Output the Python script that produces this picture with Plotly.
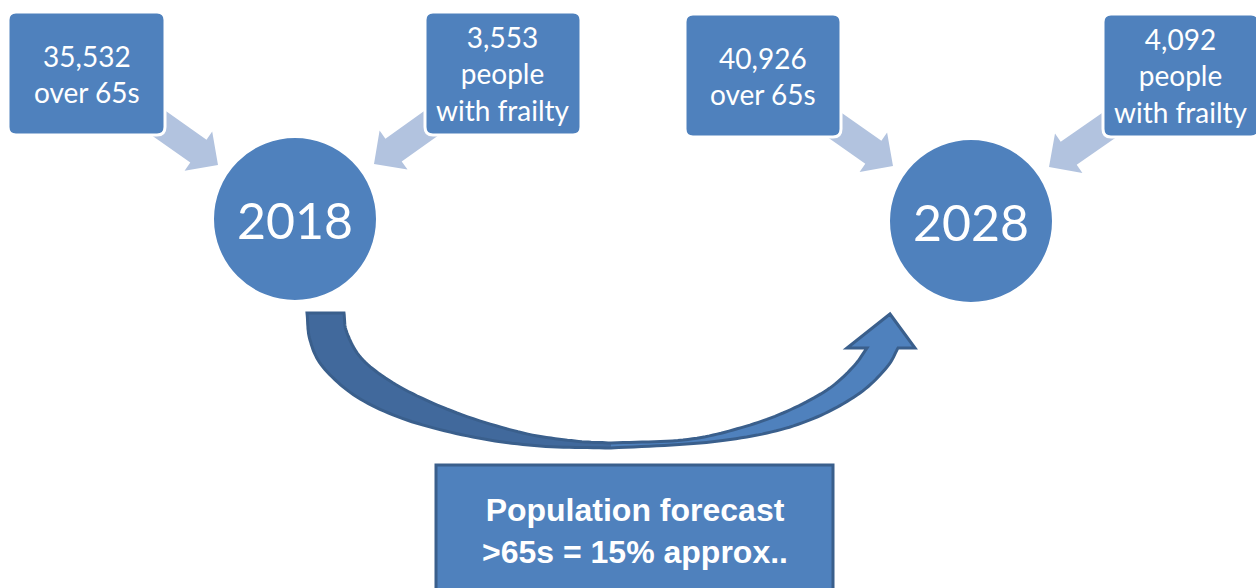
import numpy as np
import plotly.graph_objects as go

# ---- data ----
years = ["2018", "2028"]
over_65s = [35532, 40926]
with_frailty = [3553, 4092]
forecast_text = ["Population forecast", ">65s = 15% approx.."]

# ---- layout geometry (pixels, y downward) ----
W, H = 1256, 588
circle_centers = [(295, 219), (971, 221)]
circle_r = 82
box_over = [(8, 12, 165, 135), (685, 14, 841, 137)]
box_frail = [(425, 12, 581, 135), (1103, 14, 1259, 137)]
arrows_small = [
    ((150, 117), (218, 165)), ((440, 117), (374, 164)),
    ((826, 119), (893, 166)), ((1118, 119), (1049, 167)),
]
forecast_box = (436, 465, 833, 600)

BLUE = "#4F81BD"
DARK = "#3A5F8C"
DARK_FILL = "#41699C"
LIGHT = "#B2C3DF"
FONT_C = "Lato"
FONT_A = "Liberation Sans"

shapes = []
annotations = []


def rrect(x0, y0, x1, y1, r=8):
    return (f"M{x0+r},{y0} L{x1-r},{y0} Q{x1},{y0} {x1},{y0+r} L{x1},{y1-r} "
            f"Q{x1},{y1} {x1-r},{y1} L{x0+r},{y1} Q{x0},{y1} {x0},{y1-r} "
            f"L{x0},{y0+r} Q{x0},{y0} {x0+r},{y0} Z")


def block_arrow(tail, tip, shaft_w=28, head_w=48, head_len=24):
    t = np.array(tail, float); p = np.array(tip, float)
    d = p - t; L = np.linalg.norm(d); u = d / L; n = np.array([-u[1], u[0]])
    b = p - u * head_len
    pts = [t + n * shaft_w / 2, b + n * shaft_w / 2, b + n * head_w / 2, p,
           b - n * head_w / 2, b - n * shaft_w / 2, t - n * shaft_w / 2]
    return "M" + " L".join(f"{x:.1f},{y:.1f}" for x, y in pts) + " Z"


def catmull(points, n=12):
    pts = np.array(points, float)
    ext = np.vstack([2 * pts[0] - pts[1], pts, 2 * pts[-1] - pts[-2]])
    out = []
    for i in range(1, len(ext) - 2):
        p0, p1, p2, p3 = ext[i - 1], ext[i], ext[i + 1], ext[i + 2]
        for t in np.linspace(0, 1, n, endpoint=False):
            t2, t3 = t * t, t * t * t
            out.append(0.5 * ((2 * p1) + (-p0 + p2) * t + (2 * p0 - 5 * p1 + 4 * p2 - p3) * t2
                              + (-p0 + 3 * p1 - 3 * p2 + p3) * t3))
    out.append(pts[-1])
    return out


def path_of(pts, close=True):
    s = "M" + " L".join(f"{x:.1f},{y:.1f}" for x, y in pts)
    return s + (" Z" if close else "")


# small light arrows (under boxes)
for tail, tip in arrows_small:
    shapes.append(dict(type="path", path=block_arrow(tail, tip), fillcolor=LIGHT,
                       line=dict(width=0), layer="above"))

# boxes
for i in range(2):
    for (x0, y0, x1, y1) in (box_over[i], box_frail[i]):
        shapes.append(dict(type="path", path=rrect(x0, y0, x1, y1), fillcolor=BLUE,
                           line=dict(color="white", width=3), layer="above"))
    bx = box_over[i]
    annotations.append(dict(x=(bx[0] + bx[2]) / 2, y=(bx[1] + bx[3]) / 2,
                            text=f"{over_65s[i]:,}<br>over 65s", showarrow=False,
                            font=dict(family=FONT_C, size=28, color="white")))
    bx = box_frail[i]
    annotations.append(dict(x=(bx[0] + bx[2]) / 2, y=(bx[1] + bx[3]) / 2,
                            text=f"{with_frailty[i]:,}<br>people<br>with frailty", showarrow=False,
                            font=dict(family=FONT_C, size=28, color="white")))
    cx, cy = circle_centers[i]
    shapes.append(dict(type="circle", x0=cx - circle_r, x1=cx + circle_r,
                       y0=cy - circle_r, y1=cy + circle_r, fillcolor=BLUE,
                       line=dict(color="white", width=2), layer="above"))
    annotations.append(dict(x=cx, y=cy + 1, text=years[i], showarrow=False,
                            font=dict(family=FONT_C, size=50, color="white")))

# curved arrow
outer_left = [(307, 313), (310, 340), (323, 367), (357, 397), (407, 420), (473, 437),
              (540, 446), (611, 448)]
inner_left = [(344, 313), (347, 333), (363, 360), (400, 387), (457, 413), (523, 433),
              (575, 441), (611, 443)]
outer_right = [(611, 448), (700, 443), (767, 433), (817, 417), (860, 393), (887, 367), (898, 348)]
inner_right = [(611, 443), (683, 440), (733, 430), (783, 413), (827, 390), (853, 367), (867, 348)]
head = [(898, 348), (915, 348), (890, 314), (847, 348), (867, 348)]

oL = catmull(outer_left); iL = catmull(inner_left)
oR = catmull(outer_right); iR = catmull(inner_right)
left_piece = oL + iL[::-1]
right_piece = oR + head[1:-1] + iR[::-1]
shapes.append(dict(type="path", path=path_of(left_piece), fillcolor=DARK_FILL,
                   line=dict(width=0), layer="above"))
shapes.append(dict(type="path", path=path_of(right_piece), fillcolor=BLUE,
                   line=dict(width=0), layer="above"))
full = oL + oR[1:] + head[1:-1] + iR[::-1] + iL[::-1][1:]
shapes.append(dict(type="path", path=path_of(full), fillcolor="rgba(0,0,0,0)",
                   line=dict(color=DARK, width=3), layer="above"))

# forecast box
x0, y0, x1, y1 = forecast_box
shapes.append(dict(type="rect", x0=x0, y0=y0, x1=x1, y1=y1, fillcolor=BLUE,
                   line=dict(color=DARK, width=3), layer="above"))
annotations.append(dict(x=(x0 + x1) / 2, y=531, text="<br>".join(forecast_text),
                        showarrow=False,
                        font=dict(family=FONT_A, size=32, color="white", weight="bold")))

fig = go.Figure()
fig.update_layout(
    width=W, height=H, margin=dict(l=0, r=0, t=0, b=0),
    paper_bgcolor="white", plot_bgcolor="white",
    xaxis=dict(range=[0, W], visible=False, fixedrange=True),
    yaxis=dict(range=[H, 0], visible=False, fixedrange=True),
    shapes=shapes, annotations=annotations, showlegend=False,
)
fig.write_html("out.html")
